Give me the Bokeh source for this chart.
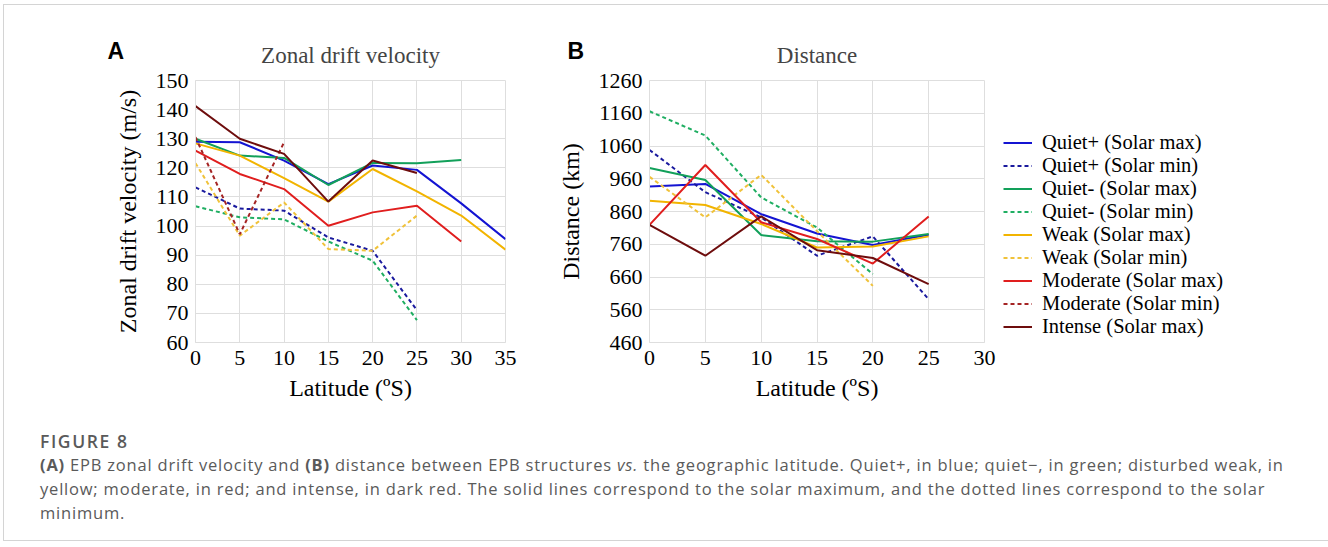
from bokeh.plotting import figure
from bokeh.models import Range1d, FixedTicker, Legend, LegendItem, Title, Div, ColumnDataSource
from bokeh.layouts import row, column
from bokeh.embed import file_html
from bokeh.resources import INLINE

# ---------------- data ----------------
a_lat = [0, 5, 10, 15, 20, 25, 30, 35]
a_quiet_plus_max = [129, 128.8, 122.5, 114.4, 120.8, 119.3, 107.8, 95.5]
a_quiet_plus_min = [113.3, 106, 105.3, 96.1, 91.5, 71.1]
a_quiet_minus_max = [130, 124.2, 123.4, 114.1, 121.7, 121.6, 122.7]
a_quiet_minus_min = [106.8, 103, 102.3, 94.7, 88.1, 67.7]
a_weak_max = [128.4, 124.2, 116.5, 108.4, 119.6, 111.9, 103.6, 91.9]
a_weak_min = [121.6, 96.7, 108.1, 92.1, 91.5, 103.6]
a_moderate_max = [125.9, 117.9, 112.7, 100.1, 104.7, 107, 94.7]
a_moderate_min = [130.5, 97.2, 128.8]
a_intense_max = [141.2, 130, 124.8, 108.4, 122.5, 118.2]

b_lat = [0, 5, 10, 15, 20, 25]
b_quiet_plus_max = [936, 944, 852, 793, 758, 789]
b_quiet_plus_min = [1048, 919, 842, 725, 784, 592]
b_quiet_minus_max = [993, 956, 788, 769, 768, 791]
b_quiet_minus_min = [1166, 1092, 903, 811, 669]
b_weak_max = [893, 880, 822, 750, 753, 784]
b_weak_min = [966, 842, 972, 800, 633]
b_moderate_max = [819, 1002, 827, 776, 701, 845]
b_moderate_min = [float("nan")]   # no values in panel B (legend entry only)
b_intense_max = [819, 725, 845, 742, 718, 638]

a_xticks = [0, 5, 10, 15, 20, 25, 30, 35]
a_yticks = [60, 70, 80, 90, 100, 110, 120, 130, 140, 150]
b_xticks = [0, 5, 10, 15, 20, 25, 30]
b_yticks = [460, 560, 660, 760, 860, 960, 1060, 1160, 1260]

names = ["Quiet+ (Solar max)", "Quiet+ (Solar min)", "Quiet- (Solar max)", "Quiet- (Solar min)",
         "Weak (Solar max)", "Weak (Solar min)", "Moderate (Solar max)", "Moderate (Solar min)",
         "Intense (Solar max)"]
colors = ["#1414d2", "#1a1a9e", "#12a05a", "#1fae62", "#f2b400", "#f0c23a", "#e01e1e", "#a52424", "#6e0d0d"]
dashes = ["solid", "4 3", "solid", "4 3", "solid", "4 3", "solid", "4 3", "solid"]

a_series = [a_quiet_plus_max, a_quiet_plus_min, a_quiet_minus_max, a_quiet_minus_min,
            a_weak_max, a_weak_min, a_moderate_max, a_moderate_min, a_intense_max]
b_series = [b_quiet_plus_max, b_quiet_plus_min, b_quiet_minus_max, b_quiet_minus_min,
            b_weak_max, b_weak_min, b_moderate_max, b_moderate_min, b_intense_max]

SERIF = "Liberation Serif"
GRID = "#dedede"


def style(p, xticks, yticks, ylabel, panel_letter, letter_offset):
    p.title.text_font = SERIF
    p.title.text_font_size = "23px"
    p.title.text_font_style = "normal"
    p.title.align = "center"
    p.title.standoff = -98
    p.add_layout(Title(text=panel_letter, align="left", offset=letter_offset, standoff=34,
                       text_font="Liberation Sans", text_font_style="bold",
                       text_font_size="23px", text_color="black"), "above")
    p.outline_line_color = GRID
    p.xaxis.ticker = FixedTicker(ticks=xticks)
    p.yaxis.ticker = FixedTicker(ticks=yticks)
    for ax in (p.xaxis[0], p.yaxis[0]):
        ax.major_label_text_font = SERIF
        ax.major_label_text_font_size = "22px"
        ax.major_label_text_color = "black"
        ax.axis_label_text_font = SERIF
        ax.axis_label_text_font_size = "24px"
        ax.axis_label_text_font_style = "normal"
        ax.axis_label_text_color = "black"
        ax.major_tick_line_color = None
        ax.minor_tick_line_color = None
        ax.major_tick_out = 0
        ax.major_tick_in = 0
        ax.axis_line_color = GRID
    p.xaxis.axis_label = "Latitude (ºS)"
    p.yaxis.axis_label = ylabel
    p.xaxis.major_label_standoff = 8
    p.yaxis.major_label_standoff = 7
    p.xaxis.axis_label_standoff = 7
    p.yaxis.axis_label_standoff = 12
    p.xgrid.grid_line_color = GRID
    p.ygrid.grid_line_color = GRID
    p.xgrid.ticker = FixedTicker(ticks=xticks)
    p.ygrid.ticker = FixedTicker(ticks=yticks)
    p.background_fill_color = "white"
    p.border_fill_color = "white"


pA = figure(output_backend="svg", toolbar_location=None, title="Zonal drift velocity",
            x_range=Range1d(0, 35), y_range=Range1d(60, 150),
            frame_width=310, frame_height=262,
            min_border_left=191, min_border_right=49, min_border_top=75, min_border_bottom=68)
style(pA, a_xticks, a_yticks, "Zonal drift velocity (m/s)", "A", -88)
for vals, c, d in zip(a_series, colors, dashes):
    src = ColumnDataSource(dict(x=a_lat[:len(vals)], y=vals))
    pA.line("x", "y", source=src, line_color=c, line_dash=d, line_width=2)

pB = figure(output_backend="svg", toolbar_location=None, title="Distance",
            x_range=Range1d(0, 30), y_range=Range1d(460, 1260),
            frame_width=335, frame_height=262,
            min_border_left=95, min_border_right=340, min_border_top=75, min_border_bottom=68)
style(pB, b_xticks, b_yticks, "Distance (km)", "B", -82)
items = []
for vals, c, d, n in zip(b_series, colors, dashes, names):
    src = ColumnDataSource(dict(x=b_lat[:len(vals)], y=vals))
    r = pB.line("x", "y", source=src, line_color=c, line_dash=d, line_width=2)
    items.append(LegendItem(label=n, renderers=[r]))
leg = Legend(items=items, location=(19, 4), label_text_font=SERIF, label_text_font_size="20.5px",
             label_text_color="black", glyph_width=29, glyph_height=23, label_height=23,
             label_standoff=10, spacing=0, padding=0, margin=0,
             border_line_color=None, background_fill_alpha=0)
pB.add_layout(leg, "right")

caption_html = (
    '<div style="font-family:\'Open Sans\'; color:#5a5a5a; padding-left:36px; white-space:nowrap;">'
    '<div style="font-size:17.5px; font-weight:600; letter-spacing:1.6px; line-height:20px; margin-top:21px; margin-bottom:2px;">FIGURE 8</div>'
    '<div style="font-size:16.5px; letter-spacing:0.8px; line-height:24px;">'
    '<b>(A)</b> EPB zonal drift velocity and <b>(B)</b> distance between EPB structures <i>vs.</i> the geographic latitude. '
    'Quiet+, in blue; quiet&minus;, in green; disturbed weak, in<br>'
    'yellow; moderate, in red; and intense, in dark red. The solid lines correspond to the solar maximum, and the dotted lines correspond to the solar<br>'
    'minimum.</div></div>'
)
cap = Div(text=caption_html, width=1320, height=130, margin=(0, 0, 0, 0))

layout = column(row(pA, pB), cap, styles={"border": "1px solid #d4d4d4"}, margin=(4, 0, 0, 3))

open("out.html", "w").write(file_html(layout, INLINE))
